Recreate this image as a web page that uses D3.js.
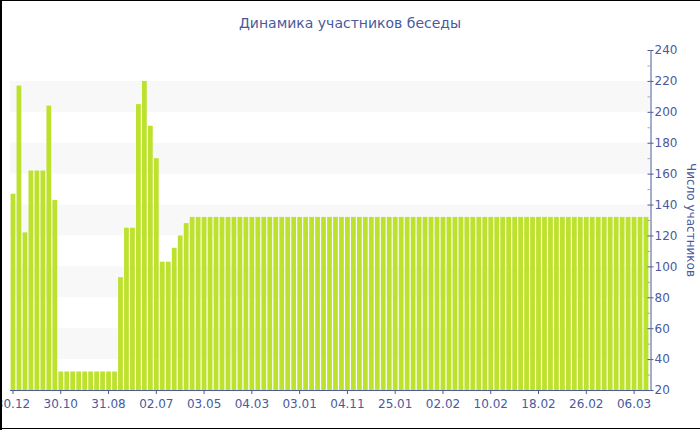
<!DOCTYPE html>
<html>
<head>
<meta charset="utf-8">
<script src="https://cdn.jsdelivr.net/npm/d3@7"></script>
<style>
  body { margin: 0; background: #fff; }
  svg { display: block; font-family: "DejaVu Sans", Verdana, sans-serif; }
</style>
</head>
<body>
<script>
// members count per period
const members = [
  147, 217, 122, 162, 162, 162, 204, 143,
  32, 32, 32, 32, 32, 32, 32, 32, 32, 32,
  93, 125, 125, 205, 220, 191, 170, 103, 103, 112, 120, 128,
  132, 132, 132, 132, 132, 132, 132, 132, 132, 132, 132,
  132, 132, 132, 132, 132, 132, 132, 132, 132, 132, 132,
  132, 132, 132, 132, 132, 132, 132, 132, 132, 132, 132,
  132, 132, 132, 132, 132, 132, 132, 132, 132, 132, 132,
  132, 132, 132, 132, 132, 132, 132, 132, 132, 132, 132,
  132, 132, 132, 132, 132, 132, 132, 132, 132, 132, 132,
  132, 132, 132, 132, 132, 132, 132, 132, 132, 132, 132
]
// labels shown every 8th bar
const tickLabels = ['30.12', '30.10', '31.08', '02.07', '03.05', '04.03', '03.01',
  '04.11', '25.01', '02.02', '10.02', '18.02', '26.02', '06.03']
const tickEvery = 8
const yTicks = [20, 40, 60, 80, 100, 120, 140, 160, 180, 200, 220, 240]
const yMinor = [30, 50, 70, 90, 110, 130, 150, 170, 190, 210, 230]
const bands = [[40, 60], [80, 100], [120, 140], [160, 180], [200, 220]]

const W = 700, H = 430
const blue = '#4a5a9c'
const pLeft = 10, pRight = 649, pTop = 50, pBottom = 390

const svg = d3.select('body').append('svg')
  .attr('width', W)
  .attr('height', H)

const x = d3.scaleBand()
  .domain(d3.range(members.length))
  .range([pLeft, pRight])
  .paddingInner(0.2)
  .paddingOuter(0.1)

const y = d3.scaleLinear()
  .domain([20, 240])
  .range([pBottom, pTop])

// alternating background bands
svg.append('g').selectAll('rect')
  .data(bands)
  .join('rect')
  .attr('x', pLeft)
  .attr('width', 650 - pLeft)
  .attr('y', d => y(d[1]))
  .attr('height', d => y(d[0]) - y(d[1]))
  .attr('fill', '#f8f8f8')

svg.append('g').selectAll('rect')
  .data(members)
  .join('rect')
  .attr('x', (d, i) => x(i))
  .attr('width', x.bandwidth())
  .attr('y', d => y(d))
  .attr('height', d => y(20) - y(d))
  .attr('fill', '#bde22d')

// x axis
const xAxis = d3.axisBottom(x)
  .tickValues(d3.range(0, members.length, tickEvery))
  .tickFormat(i => tickLabels[i / tickEvery])
  .tickSize(4)
  .tickSizeOuter(0)

const gx = svg.append('g')
  .attr('transform', `translate(0,${pBottom})`)
  .call(xAxis)
gx.select('.domain').attr('stroke', blue).attr('d', `M${pLeft},0.5H650`)
gx.selectAll('.tick line').attr('stroke', blue)
gx.selectAll('.tick text')
  .attr('fill', blue)
  .attr('font-size', 12)
  .attr('font-family', '"DejaVu Sans", Verdana, sans-serif')
  .attr('dy', '0.9em')

// y axis on the right
const yAxis = d3.axisRight(y)
  .tickValues(yTicks)
  .tickSize(3)
  .tickPadding(1)
  .tickSizeOuter(0)

const gy = svg.append('g')
  .attr('transform', 'translate(650.5,0)')
  .call(yAxis)
gy.select('.domain').attr('stroke', blue)
gy.selectAll('.tick line').attr('stroke', blue)
gy.selectAll('.tick').append('line')
  .attr('x1', -3).attr('x2', 0)
  .attr('stroke', blue)
gy.selectAll('.tick text')
  .attr('fill', blue)
  .attr('font-size', 12)
  .attr('font-family', '"DejaVu Sans", Verdana, sans-serif')

gy.append('g').selectAll('line')
  .data(yMinor)
  .join('line')
  .attr('x1', -3).attr('x2', 0)
  .attr('y1', d => y(d) + 0.5).attr('y2', d => y(d) + 0.5)
  .attr('stroke', '#a8a8a8')

svg.append('text')
  .attr('transform', `translate(687,${(pTop + pBottom) / 2}) rotate(90)`)
  .attr('text-anchor', 'middle')
  .attr('fill', blue)
  .attr('font-size', 12)
  .text('Число участников')

svg.append('text')
  .attr('x', 350)
  .attr('y', 28)
  .attr('text-anchor', 'middle')
  .attr('fill', blue)
  .attr('font-size', 14)
  .text('Динамика участников беседы')

// frame: left, top, bottom edges
svg.append('path')
  .attr('d', 'M1,431V0.5H700M0,428.5H700')
  .attr('fill', 'none')
  .attr('stroke', '#000')
  .attr('stroke-width', 1)
svg.append('line')
  .attr('x1', 1).attr('x2', 1).attr('y1', 0).attr('y2', 430)
  .attr('stroke', '#000').attr('stroke-width', 2)
</script>
</body>
</html>
